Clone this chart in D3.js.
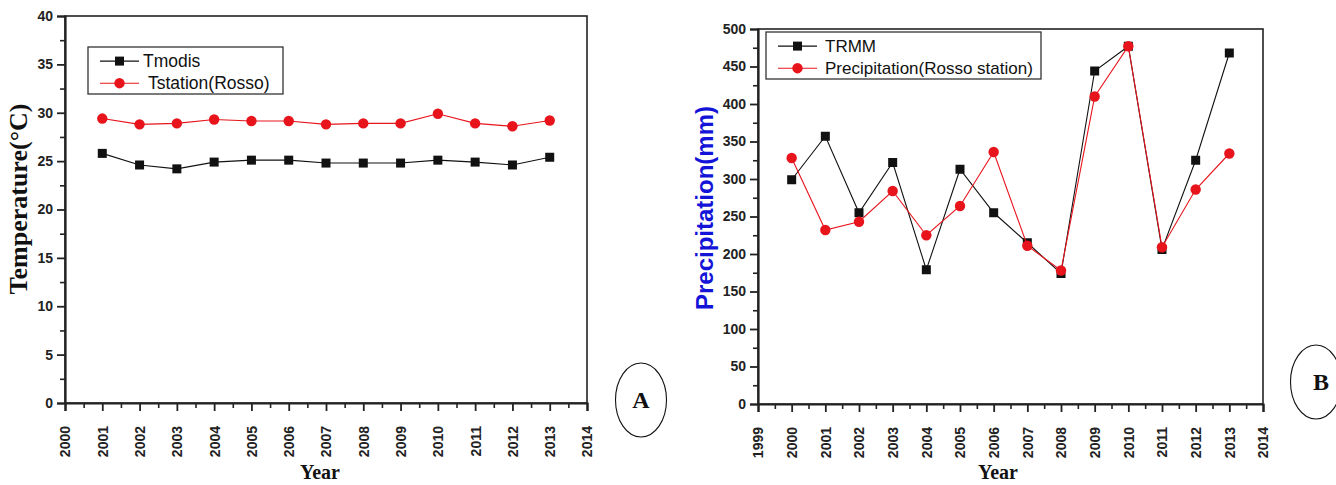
<!DOCTYPE html>
<html><head><meta charset="utf-8">
<script src="https://cdn.jsdelivr.net/npm/d3@7"></script>
<style>body{margin:0;background:#fff}svg{display:block}</style>
</head><body>
<svg id="c" width="1336" height="485"></svg>
<script>
const yearsA = [2001,2002,2003,2004,2005,2006,2007,2008,2009,2010,2011,2012,2013];
const tmodis = [25.8,24.6,24.2,24.9,25.1,25.1,24.8,24.8,24.8,25.1,24.9,24.6,25.4];
const tstation = [29.4,28.8,28.9,29.3,29.15,29.15,28.8,28.9,28.9,29.9,28.9,28.6,29.2];
const yearsB = [2000,2001,2002,2003,2004,2005,2006,2007,2008,2009,2010,2011,2012,2013];
const trmm = [299,357,255,322,179,313,255,215,174,444,477,206,325,468];
const precipStation = [328,232,243,284,225,264,336,211,178,410,477,209,286,334];
const xTicksA = d3.range(2000,2015);
const yTicksA = d3.range(0,41,5);
const xTicksB = d3.range(1999,2015);
const yTicksB = d3.range(0,501,50);

const svg = d3.select('#c');
const tickFont = "Arial, 'Liberation Sans', sans-serif";
const serif = "'Times New Roman', 'Liberation Serif', serif";

function panel(o){
  const g = svg.append('g');
  const x = d3.scaleLinear().domain(o.xd).range([o.l,o.r]);
  const y = d3.scaleLinear().domain(o.yd).range([o.b,o.t]);
  g.append('rect').attr('x',o.l).attr('y',o.t).attr('width',o.r-o.l).attr('height',o.b-o.t)
    .attr('fill','none').attr('stroke','#222').attr('stroke-width',1.6);
  const minorX = d3.range(o.xd[0]+0.5,o.xd[1],1);
  g.append('g').attr('transform',`translate(0,${o.b})`)
    .call(d3.axisBottom(x).tickValues(minorX).tickSize(5).tickFormat(''))
    .call(a=>a.select('.domain').remove())
    .selectAll('line').attr('stroke','#222').attr('stroke-width',1.6);
  const minorY = d3.range(o.yd[0]+o.ystep/2,o.yd[1],o.ystep);
  g.append('g').attr('transform',`translate(${o.l},0)`)
    .call(d3.axisLeft(y).tickValues(minorY).tickSize(5).tickFormat(''))
    .call(a=>a.select('.domain').remove())
    .selectAll('line').attr('stroke','#222').attr('stroke-width',1.6);
  const ax = g.append('g').attr('transform',`translate(0,${o.b})`)
    .call(d3.axisBottom(x).tickValues(o.xt).tickSize(8).tickFormat(d3.format('d')).tickPadding(4));
  ax.select('.domain').attr('stroke','#222').attr('stroke-width',2.2);
  ax.selectAll('line').attr('stroke','#222').attr('stroke-width',1.8);
  ax.selectAll('text').attr('transform','rotate(-90)').attr('text-anchor','end')
    .attr('x',-23).attr('y',0).attr('dy','0.35em')
    .style('font-family',tickFont).style('font-size','14px').style('font-weight','bold').attr('fill','#222');
  const ay = g.append('g').attr('transform',`translate(${o.l},0)`)
    .call(d3.axisLeft(y).tickValues(o.yt).tickSize(8).tickPadding(4));
  ay.select('.domain').attr('stroke','#222').attr('stroke-width',2.2);
  ay.selectAll('line').attr('stroke','#222').attr('stroke-width',1.8);
  ay.selectAll('text').style('font-family',tickFont).style('font-size','14px').style('font-weight','bold').attr('fill','#222');

  o.series.forEach(s=>{
    const line = d3.line().x((d,i)=>x(o.years[i])).y(d=>y(d));
    g.append('path').datum(s.values).attr('d',line).attr('fill','none').attr('stroke',s.color).attr('stroke-width',1.1);
    drawMarkers(g, s, o.years.map((yr,i)=>[x(yr),y(s.values[i])]));
  });
  const lg = g.append('g');
  lg.append('rect').attr('x',o.lg.x).attr('y',o.lg.y).attr('width',o.lg.w).attr('height',o.lg.h)
    .attr('fill','#fff').attr('stroke','#333').attr('stroke-width',1.3);
  o.series.forEach((s,i)=>{
    const yy = o.lg.y + o.lg.h*(0.3 + 0.47*i);
    lg.append('line').attr('x1',o.lg.x+12).attr('x2',o.lg.x+51).attr('y1',yy).attr('y2',yy)
      .attr('stroke',s.color).attr('stroke-width',1.1);
    drawMarkers(lg, s, [[o.lg.x+31.5,yy]]);
    lg.append('text').attr('x',o.lg.x+o.lg.tx[i]).attr('y',yy).attr('dy','0.36em')
      .style('font-family',tickFont).style('font-size',o.lg.fs).attr('fill','#111').text(s.name);
  });
  g.append('text').attr('x',o.xtitle[0]).attr('y',o.xtitle[1]).attr('text-anchor','middle')
    .style('font-family',serif).style('font-weight','bold').style('font-size','20px').attr('fill','#111').text('Year');
  g.append('text').attr('transform',`translate(${o.ytitle[0]},${o.ytitle[1]}) rotate(-90)`)
    .attr('text-anchor','middle').style('font-family',o.ytitleFont).style('font-weight','bold')
    .style('font-size',o.ytitleSize).attr('fill',o.ytitleColor).text(o.ytitleText);
  g.append('ellipse').attr('cx',o.el[0]).attr('cy',o.el[1]).attr('rx',25.5).attr('ry',37)
    .attr('fill','none').attr('stroke','#111').attr('stroke-width',1.1);
  g.append('text').attr('x',o.el[0]+o.el[2]).attr('y',o.el[1]).attr('dy','0.35em').attr('text-anchor','middle')
    .style('font-family',serif).style('font-weight','bold').style('font-size','24px').attr('fill','#111').text(o.el[3]);
}
function drawMarkers(g, s, pts){
  if(s.shape==='square'){
    g.selectAll(null).data(pts).enter().append('rect')
      .attr('x',d=>d[0]-4.5).attr('y',d=>d[1]-4.5).attr('width',9).attr('height',9).attr('fill',s.color);
  } else {
    g.selectAll(null).data(pts).enter().append('circle')
      .attr('cx',d=>d[0]).attr('cy',d=>d[1]).attr('r',5.2).attr('fill',s.mcolor);
  }
}

panel({l:65,r:587,t:16,b:403,xd:[2000,2014],yd:[0,40],ystep:5,xt:xTicksA,yt:yTicksA,years:yearsA,
  series:[{name:'Tmodis',values:tmodis,color:'#111',shape:'square'},
          {name:'Tstation(Rosso)',values:tstation,color:'#e8141c',mcolor:'#e8141c',shape:'circle'}],
  lg:{x:88,y:47,w:195,h:47,tx:[55,60],fs:'17.5px'},
  xtitle:[320,479], ytitle:[27,199], ytitleFont:serif, ytitleSize:'26px', ytitleColor:'#111', ytitleText:'Temperature(°C)',
  el:[641,400,0,'A']});

panel({l:758,r:1263,t:29,b:404,xd:[1999,2014],yd:[0,500],ystep:50,xt:xTicksB,yt:yTicksB,years:yearsB,
  series:[{name:'TRMM',values:trmm,color:'#111',shape:'square'},
          {name:'Precipitation(Rosso station)',values:precipStation,color:'#e8141c',mcolor:'#e8141c',shape:'circle'}],
  lg:{x:766,y:32,w:275,h:47,tx:[59,59],fs:'17px'},
  xtitle:[998,479], ytitle:[713,208], ytitleFont:tickFont, ytitleSize:'24px', ytitleColor:'#1414d8', ytitleText:'Precipitation(mm)',
  el:[1316,382,5,'B']});
</script>
</body></html>
